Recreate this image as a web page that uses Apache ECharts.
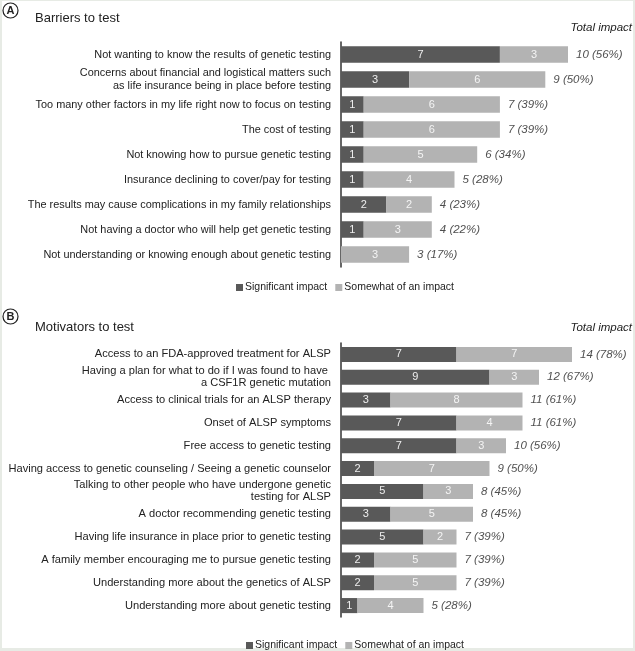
<!DOCTYPE html>
<html><head><meta charset="utf-8">
<script src="https://cdn.jsdelivr.net/npm/echarts@6/dist/echarts.min.js"></script>
<style>html,body{margin:0;padding:0;background:#fff}#c{width:635px;height:651px}</style>
</head><body><div id="c"></div>
<script>
// Panel A: Barriers to test
const catsA = [
  'Not wanting to know the results of genetic testing',
  'Concerns about financial and logistical matters such\nas life insurance being in place before testing',
  'Too many other factors in my life right now to focus on testing',
  'The cost of testing',
  'Not knowing how to pursue genetic testing',
  'Insurance declining to cover/pay for testing',
  'The results may cause complications in my family relationships',
  'Not having a doctor who will help get genetic testing',
  'Not understanding or knowing enough about genetic testing'
];
const sigA = [7, 3, 1, 1, 1, 1, 2, 1, 0];
const someA = [3, 6, 6, 6, 5, 4, 2, 3, 3];
const totalA = [10, 9, 7, 7, 6, 5, 4, 4, 3];
const pctA = [56, 50, 39, 39, 34, 28, 23, 22, 17];

// Panel B: Motivators to test
const catsB = [
  'Access to an FDA-approved treatment for ALSP',
  'Having a plan for what to do if I was found to have \na CSF1R genetic mutation',
  'Access to clinical trials for an ALSP therapy',
  'Onset of ALSP symptoms',
  'Free access to genetic testing',
  'Having access to genetic counseling / Seeing a genetic counselor',
  'Talking to other people who have undergone genetic\ntesting for ALSP',
  'A doctor recommending genetic testing',
  'Having life insurance in place prior to genetic testing',
  'A family member encouraging me to pursue genetic testing',
  'Understanding more about the genetics of ALSP',
  'Understanding more about genetic testing'
];
const sigB = [7, 9, 3, 7, 7, 2, 5, 3, 5, 2, 2, 1];
const someB = [7, 3, 8, 4, 3, 7, 3, 5, 2, 5, 5, 4];
const totalB = [14, 12, 11, 11, 10, 9, 8, 8, 7, 7, 7, 5];
const pctB = [78, 67, 61, 61, 56, 50, 45, 45, 39, 39, 39, 28];

const seriesNames = ['Significant impact', 'Somewhat of an impact'];
const DARK = '#595959', LIGHT = '#b3b3b3';
const FONT = 'Liberation Sans, Arial, sans-serif';

const chart = echarts.init(document.getElementById('c'), null, {renderer: 'canvas'});

function barSeries(idx, name, data, color, stack, lblColor) {
  return {
    type: 'bar', name: name, stack: stack, xAxisIndex: idx, yAxisIndex: idx,
    data: data.map(v => v === 0 ? null : v),
    barCategoryGap: '34%',
    itemStyle: {color: color},
    label: {show: true, position: 'inside', color: lblColor, fontSize: 11, fontFamily: FONT},
    emphasis: {disabled: true}
  };
}
function totalSeries(idx, cats, totals, pcts) {
  return {
    type: 'scatter', xAxisIndex: idx, yAxisIndex: idx, symbolSize: 0, clip: false,
    data: totals.map((t, i) => [t, cats[i]]),
    label: {show: true, position: 'right', distance: 8, fontSize: 11.5, fontStyle: 'italic',
      color: '#222', fontFamily: FONT,
      formatter: p => totals[p.dataIndex] + ' (' + pcts[p.dataIndex] + '%)'},
    emphasis: {disabled: true}, silent: true
  };
}

const option = {
  animation: false,
  backgroundColor: '#e7ebe5',
  title: [
    {text: 'Barriers to test', left: 30, top: 7, textStyle: {fontSize: 13, fontWeight: 'normal', color: '#222', fontFamily: FONT}},
    {text: 'Motivators to test', left: 30, top: 316, textStyle: {fontSize: 13, fontWeight: 'normal', color: '#222', fontFamily: FONT}}
  ],
  graphic: [
    {type: 'rect', z: -10, shape: {x: 2, y: 1, width: 631, height: 647}, style: {fill: '#fff'}},
    {type: 'circle', shape: {cx: 10.5, cy: 10.5, r: 7.5}, style: {fill: '#fff', stroke: '#222', lineWidth: 1.2}},
    {type: 'text', x: 10.5, y: 11, style: {text: 'A', align: 'center', verticalAlign: 'middle', font: 'bold 11px ' + FONT, fill: '#222'}},
    {type: 'circle', shape: {cx: 10.5, cy: 316.5, r: 7.5}, style: {fill: '#fff', stroke: '#222', lineWidth: 1.2}},
    {type: 'text', x: 10.5, y: 317, style: {text: 'B', align: 'center', verticalAlign: 'middle', font: 'bold 11px ' + FONT, fill: '#222'}},
    {type: 'text', x: 632, y: 28, style: {text: 'Total impact', align: 'right', verticalAlign: 'middle', font: 'italic 11.5px ' + FONT, fill: '#222'}},
    {type: 'text', x: 632, y: 328, style: {text: 'Total impact', align: 'right', verticalAlign: 'middle', font: 'italic 11.5px ' + FONT, fill: '#222'}}
  ],
  legend: [
    {data: seriesNames, left: 231, top: 277, icon: 'rect', itemWidth: 7, itemHeight: 7, itemGap: 8,
      textStyle: {fontSize: 10.5, color: '#222', fontFamily: FONT, padding: [0, 0, 0, -3]}, selectedMode: false},
    {data: seriesNames, left: 241, top: 635, icon: 'rect', itemWidth: 7, itemHeight: 7, itemGap: 8,
      textStyle: {fontSize: 10.5, color: '#222', fontFamily: FONT, padding: [0, 0, 0, -3]}, selectedMode: false}
  ],
  grid: [
    {left: 341, top: 42, width: 227, height: 225, containLabel: false},
    {left: 341, top: 343, width: 231, height: 274, containLabel: false}
  ],
  xAxis: [
    {type: 'value', gridIndex: 0, min: 0, max: 10, show: false},
    {type: 'value', gridIndex: 1, min: 0, max: 14, show: false}
  ],
  yAxis: [
    {type: 'category', gridIndex: 0, data: catsA, inverse: true,
      axisLine: {show: true, lineStyle: {color: '#333', width: 1.5}}, axisTick: {show: false},
      axisLabel: {margin: 10, fontSize: 10.9, color: '#222', fontFamily: FONT, lineHeight: 13}},
    {type: 'category', gridIndex: 1, data: catsB, inverse: true,
      axisLine: {show: true, lineStyle: {color: '#333', width: 1.5}}, axisTick: {show: false},
      axisLabel: {margin: 10, fontSize: 11.1, color: '#222', fontFamily: FONT, lineHeight: 12}}
  ],
  series: [
    barSeries(0, seriesNames[0], sigA, DARK, 'a', '#eeeeee'),
    barSeries(0, seriesNames[1], someA, LIGHT, 'a', '#f4f4f4'),
    totalSeries(0, catsA, totalA, pctA),
    barSeries(1, seriesNames[0], sigB, DARK, 'b', '#eeeeee'),
    barSeries(1, seriesNames[1], someB, LIGHT, 'b', '#f4f4f4'),
    totalSeries(1, catsB, totalB, pctB)
  ]
};
chart.setOption(option);
</script>
</body></html>
